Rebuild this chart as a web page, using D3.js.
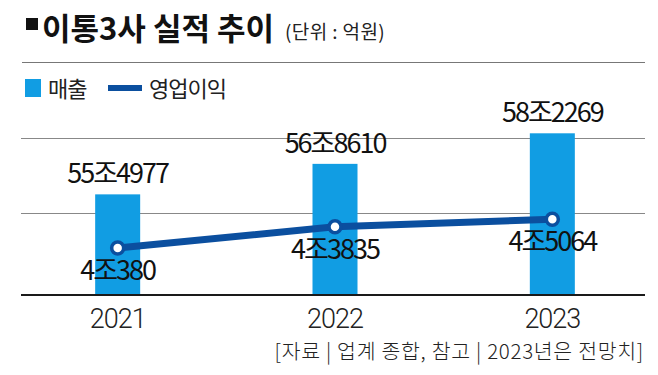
<!DOCTYPE html>
<html>
<head>
<meta charset="utf-8">
<script src="https://cdn.jsdelivr.net/npm/d3@7"></script>
<style>
  html, body { margin: 0; padding: 0; background: #fff; }
  svg { display: block; font-family: "Noto Sans CJK KR", "Noto Sans", sans-serif; }
</style>
</head>
<body>
<div id="chart"></div>
<script>
// values in 조원 (1조 = 10000억)
var years = ['2021', '2022', '2023'];
var sales = [55.4977, 56.8610, 58.2269];
var profit = [4.0380, 4.3835, 4.5064];
var salesLabels = ['55조4977', '56조8610', '58조2269'];
var profitLabels = ['4조380', '4조3835', '4조5064'];
var gridTicks = [1, 2];

var W = 658, H = 375;
var svg = d3.select('#chart').append('svg').attr('width', W).attr('height', H);

var barColor = '#119de3', lineColor = '#0b4f9f';
var base = 295;

// title
svg.append('rect').attr('x', 26).attr('y', 18).attr('width', 12).attr('height', 12).attr('fill', '#111');
svg.append('text').attr('x', 42).attr('y', 40)
  .style('font-size', '31px').style('font-weight', 700).style('letter-spacing', '0px')
  .attr('fill', '#111').text('이통3사 실적 추이');
svg.append('text').attr('x', 285).attr('y', 39)
  .style('font-size', '19px').style('letter-spacing', '0.4px')
  .attr('fill', '#222').text('(단위 : 억원)');
svg.append('line').attr('x1', 22).attr('x2', 645).attr('y1', 62.5).attr('y2', 62.5)
  .attr('stroke', '#777').attr('stroke-width', 1);

// legend
svg.append('rect').attr('x', 25).attr('y', 79).attr('width', 16).attr('height', 18).attr('fill', barColor);
svg.append('text').attr('x', 48).attr('y', 97).style('font-size', '22px').style('letter-spacing', '-1px')
  .attr('fill', '#222').text('매출');
svg.append('line').attr('x1', 108).attr('x2', 142).attr('y1', 88).attr('y2', 88)
  .attr('stroke', lineColor).attr('stroke-width', 6);
svg.append('text').attr('x', 149).attr('y', 97).style('font-size', '22px').style('letter-spacing', '-1px')
  .attr('fill', '#222').text('영업이익');

// scales
var x = d3.scaleBand().domain(years).range([10, 662]).paddingInner(0);
var barW = 45;
var yBar = d3.scaleLinear().domain([51, 59]).range([base, 116]);
var yLine = d3.scaleLinear().domain([3.27, 5]).range([base, 189]);

// grid (the reference spacing is uneven: 138 and 213)
var gridY = { 1: 213, 2: 138 };
svg.append('g').selectAll('line').data(gridTicks).enter().append('line')
  .attr('x1', 21).attr('x2', 645)
  .attr('y1', function(d){ return gridY[d] + 0.5; })
  .attr('y2', function(d){ return gridY[d] + 0.5; })
  .attr('stroke', '#888').attr('stroke-width', 1);

function cx(d) { return x(d) + x.bandwidth() / 2 - 1; }

// bars
svg.append('g').selectAll('rect').data(years).enter().append('rect')
  .attr('x', function(d){ return cx(d) - barW / 2; })
  .attr('y', function(d, i){ return yBar(sales[i]); })
  .attr('width', barW)
  .attr('height', function(d, i){ return base - yBar(sales[i]); })
  .attr('fill', barColor);

// baseline
svg.append('line').attr('x1', 21).attr('x2', 645).attr('y1', base).attr('y2', base)
  .attr('stroke', '#1a1a1a').attr('stroke-width', 2);

// bar labels
svg.append('g').selectAll('text').data(years).enter().append('text')
  .attr('x', function(d){ return cx(d); })
  .attr('y', function(d, i){ return yBar(sales[i]) - 11; })
  .attr('text-anchor', 'middle')
  .style('font-size', '27px').style('letter-spacing', '-2px')
  .attr('fill', '#111')
  .text(function(d, i){ return salesLabels[i]; });

// profit line
var line = d3.line().x(function(d, i){ return cx(years[i]); }).y(function(d){ return yLine(d); });
svg.append('path').datum(profit).attr('d', line)
  .attr('fill', 'none').attr('stroke', lineColor).attr('stroke-width', 7);
svg.append('g').selectAll('circle').data(profit).enter().append('circle')
  .attr('cx', function(d, i){ return cx(years[i]); })
  .attr('cy', function(d){ return yLine(d); })
  .attr('r', 6).attr('fill', '#fff').attr('stroke', lineColor).attr('stroke-width', 3.5);

svg.append('g').selectAll('text').data(profit).enter().append('text')
  .attr('x', function(d, i){ return cx(years[i]); })
  .attr('y', function(d){ return yLine(d) + 32; })
  .attr('text-anchor', 'middle')
  .style('font-size', '27px').style('letter-spacing', '-2px')
  .attr('fill', '#111')
  .text(function(d, i){ return profitLabels[i]; });

// x axis labels
svg.append('g').selectAll('text').data(years).enter().append('text')
  .attr('x', function(d){ return cx(d); })
  .attr('y', 328)
  .attr('text-anchor', 'middle')
  .style('font-family', 'Roboto, "Liberation Sans", sans-serif')
  .style('font-size', '27px').style('font-weight', 300).style('letter-spacing', '-1px')
  .attr('fill', '#222')
  .text(function(d){ return d; });

// source
svg.append('text').attr('x', 644).attr('y', 359).attr('text-anchor', 'end')
  .style('font-size', '20.5px').style('font-weight', 300).style('letter-spacing', '0.7px')
  .attr('fill', '#222').text('[자료 | 업계 종합, 참고 | 2023년은 전망치]');
</script>
</body>
</html>
